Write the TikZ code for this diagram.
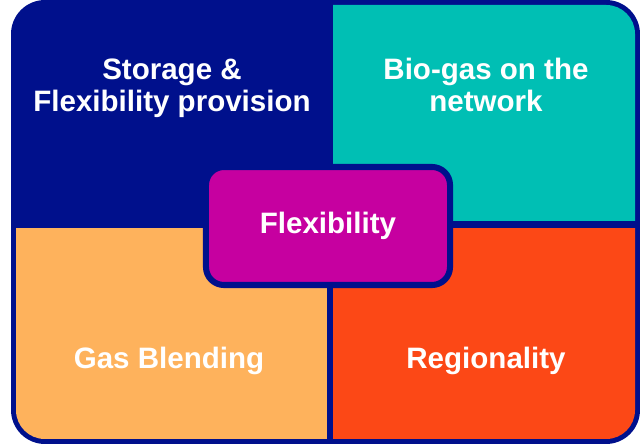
\documentclass[tikz,border=0pt]{standalone}
\usepackage{fontspec}
\setmainfont{Liberation Sans}
\usetikzlibrary{positioning}
\definecolor{navyblue}{RGB}{0,16,140}
\definecolor{tealgreen}{RGB}{0,191,180}
\definecolor{lightorange}{RGB}{254,178,92}
\definecolor{redorange}{RGB}{252,72,22}
\definecolor{flexmagenta}{RGB}{198,0,160}
\tikzset{
  tilelabel/.style={
    text=white,
    font=\bfseries\fontsize{21}{22.8}\selectfont,
    align=center,
    inner sep=0pt
  },
  centerbox/.style={
    tilelabel,
    fill=flexmagenta,
    draw=navyblue,
    line width=4.3pt,
    rounded corners=0.45cm,
    minimum width=6.1cm,
    minimum height=2.95cm
  }
}
\begin{document}
\begin{tikzpicture}[x=0.025cm,y=-0.025cm]
\useasboundingbox (0,0) rectangle (640,445);
% frame
\fill[navyblue, rounded corners=0.85cm] (11,0) rectangle (640,444);
% the three coloured tiles
\begin{scope}
\clip[rounded corners=0.72cm] (16,5) rectangle (635,439);
\fill[tealgreen] (333,0) rectangle (640,221);
\fill[lightorange] (0,228) rectangle (327,445);
\fill[redorange] (333,228) rectangle (640,445);
\end{scope}

\node[tilelabel] (storage) at (172,88) {Storage \&\\Flexibility provision};
\node[tilelabel] (biogas) at (486,85) {Bio-gas on the\\network};
\node[tilelabel, anchor=base] (blending) at (169,369) {Gas Blending};
\node[tilelabel, anchor=base] (regional) at (486,369) {Regionality};

\node[centerbox] (flex) at (328,226) {Flexibility};
\end{tikzpicture}
\end{document}
